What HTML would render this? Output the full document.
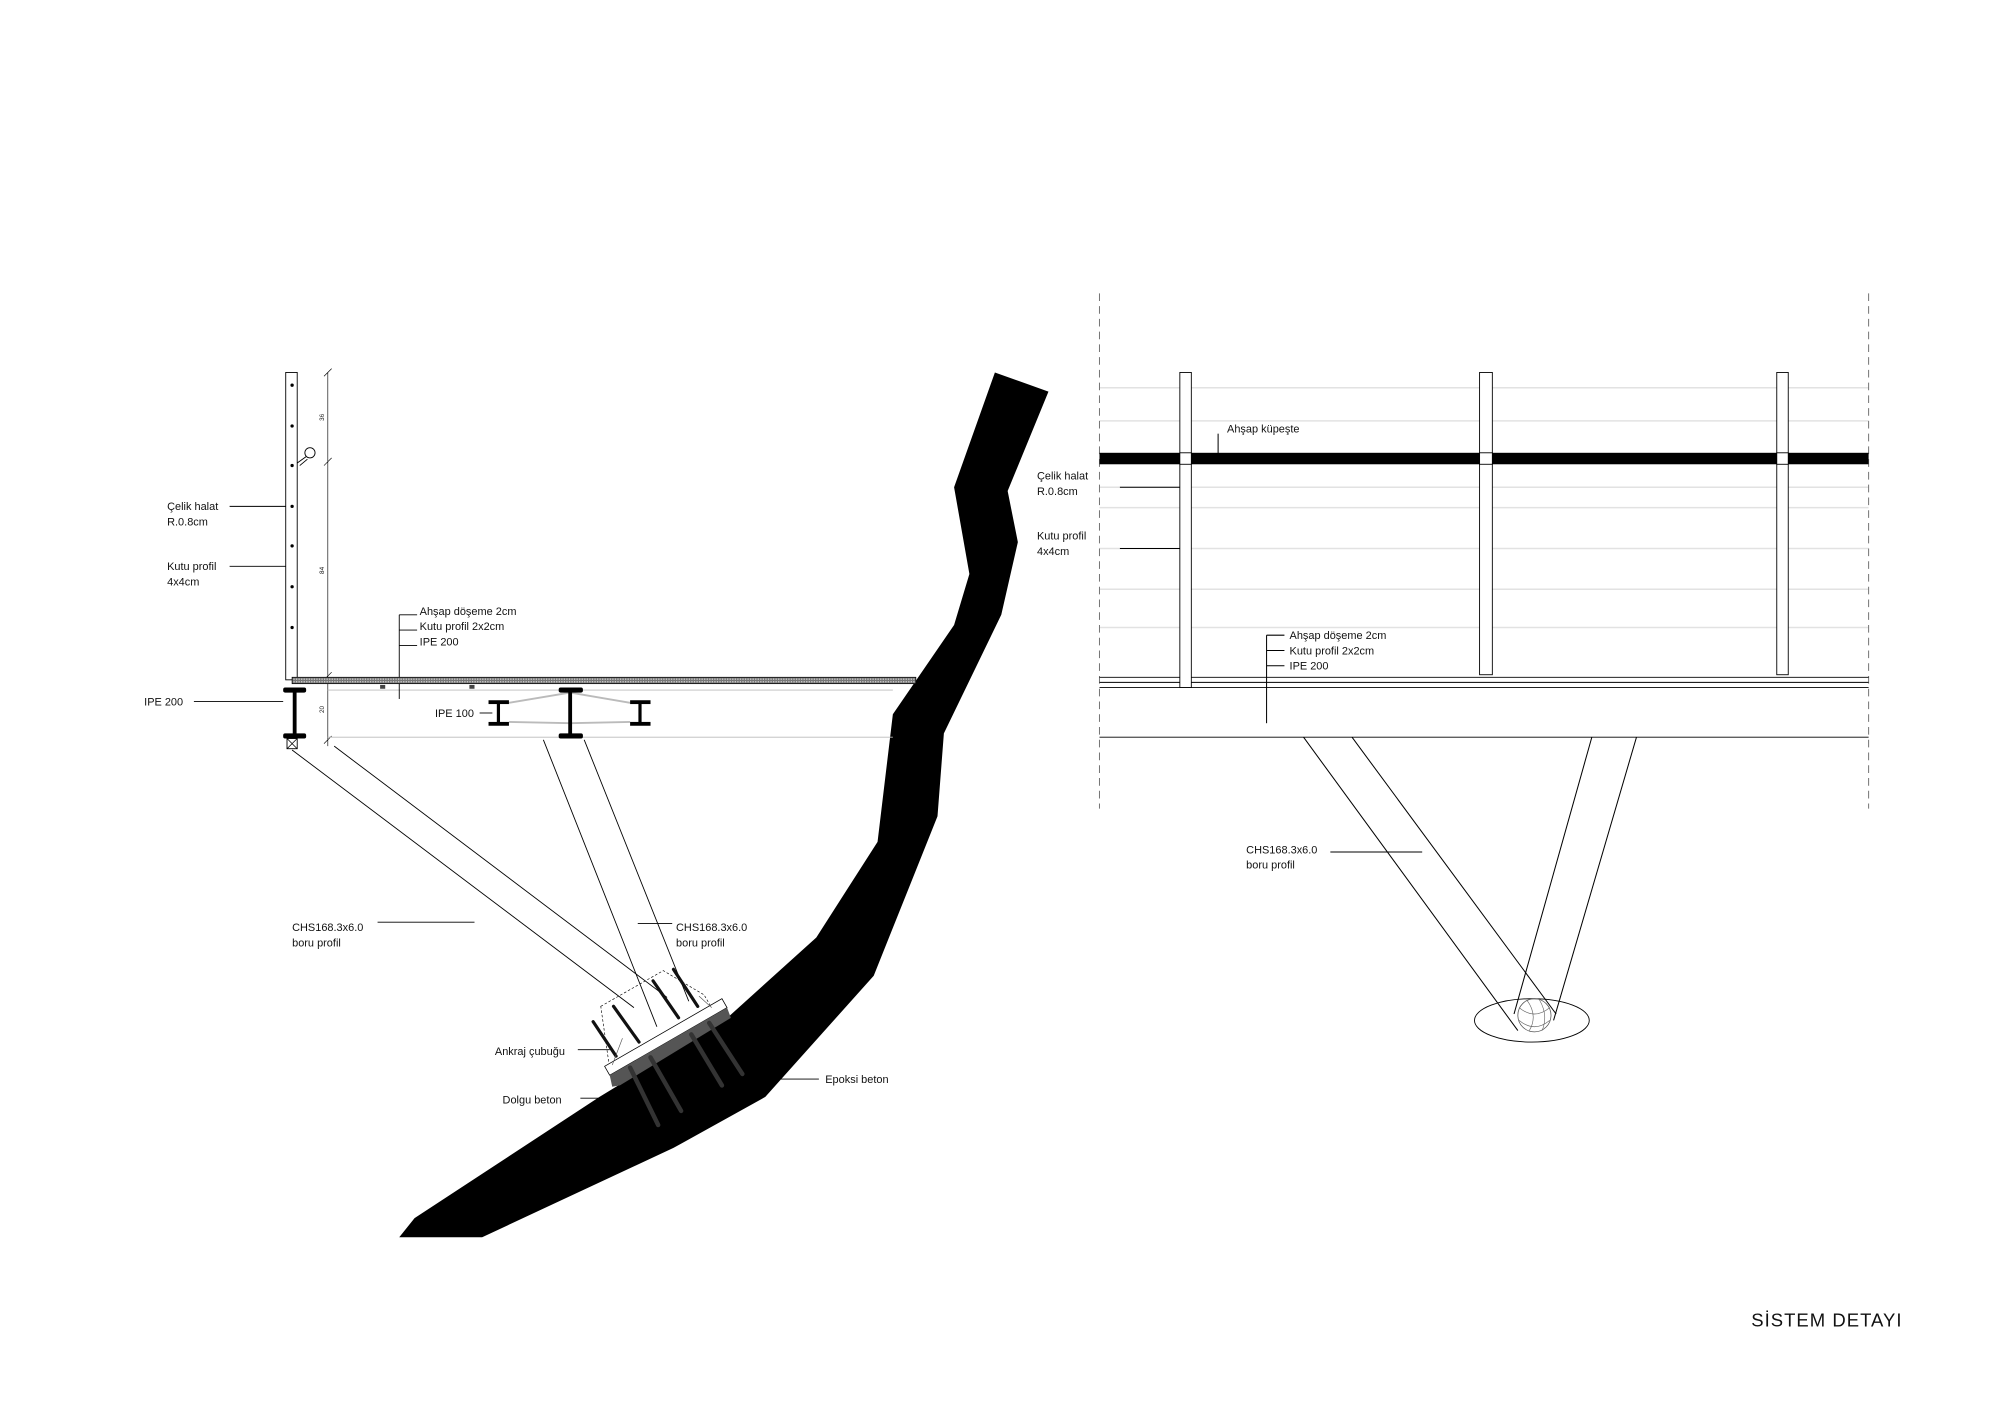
<!DOCTYPE html>
<html><head><meta charset="utf-8"><style>
html,body{margin:0;padding:0;background:#fff;width:2000px;height:1414px;overflow:hidden}
svg{display:block}
text{font-family:"Liberation Sans",sans-serif;font-size:8.6px;fill:#111}
</style></head><body>
<svg width="2000" height="1414" viewBox="0 0 1568 1108.6" xmlns="http://www.w3.org/2000/svg">
<defs>
<pattern id="hatch" width="2" height="2" patternUnits="userSpaceOnUse"><rect width="2" height="2" fill="#777"/><rect width="1" height="1" fill="#ccc"/></pattern>
</defs>
<!-- ROCK -->
<polygon fill="#000" points="780,292 822,307 790,385 798,425 785,482 740,575 735,640 685,765 600,860 528,900 378,970 313,970 325,955 470,860 568,800 640,735 688,660 700,560 748,490 760,450 748,382"/>

<!-- LEFT DRAWING -->
<g stroke="#000" fill="none" stroke-width="0.7">
<rect x="224" y="292" width="9" height="241" fill="#fff"/>
<line x1="257" y1="292" x2="257" y2="585" stroke-width="0.5"/>
<line x1="254" y1="295" x2="260" y2="289" stroke-width="0.5"/>
<line x1="254" y1="365" x2="260" y2="359" stroke-width="0.5"/>
<line x1="254" y1="533" x2="260" y2="527" stroke-width="0.5"/>
<line x1="254" y1="583" x2="260" y2="577" stroke-width="0.5"/>
<circle cx="243" cy="355" r="4" fill="#fff"/>
<line x1="233" y1="363" x2="240" y2="358"/>
<line x1="235" y1="365" x2="241" y2="360"/>
<line x1="257" y1="541" x2="700" y2="541" stroke="#bbb"/>
<line x1="257" y1="578" x2="700" y2="578" stroke="#bbb"/>
<line x1="447" y1="543" x2="399" y2="551" stroke="#bbb" stroke-width="1.5"/>
<line x1="447" y1="567" x2="399" y2="566" stroke="#bbb" stroke-width="1.5"/>
<line x1="447" y1="543" x2="494" y2="551" stroke="#bbb" stroke-width="1.5"/>
<line x1="447" y1="567" x2="494" y2="566" stroke="#bbb" stroke-width="1.5"/>
<line x1="229" y1="588" x2="497" y2="790"/>
<line x1="262" y1="585" x2="523" y2="782"/>
<line x1="426" y1="580" x2="515" y2="805"/>
<line x1="458" y1="580" x2="540" y2="785"/>
<line x1="180" y1="397" x2="224" y2="397"/>
<line x1="180" y1="444" x2="224" y2="444"/>
<line x1="152" y1="550" x2="222" y2="550"/>
<line x1="313" y1="482" x2="313" y2="548"/>
<line x1="313" y1="482" x2="327" y2="482"/><line x1="313" y1="494" x2="327" y2="494"/><line x1="313" y1="506" x2="327" y2="506"/>
<line x1="376" y1="559" x2="386" y2="559"/>
<line x1="296" y1="723" x2="372" y2="723"/>
<line x1="500" y1="724" x2="527" y2="724"/>
<line x1="453" y1="823" x2="478" y2="823"/>
<line x1="455" y1="861" x2="478" y2="861"/>
<line x1="590" y1="846" x2="642" y2="846"/>
</g>
<g fill="#000">
<circle cx="229" cy="302" r="1.3"/><circle cx="229" cy="334" r="1.3"/><circle cx="229" cy="365" r="1.3"/><circle cx="229" cy="397" r="1.3"/><circle cx="229" cy="428" r="1.3"/><circle cx="229" cy="460" r="1.3"/><circle cx="229" cy="492" r="1.3"/>
</g>
<rect x="229" y="531" width="489" height="5" fill="url(#hatch)" stroke="#000" stroke-width="0.6"/>
<rect x="298" y="537" width="4" height="3" fill="#444"/>
<rect x="368" y="537" width="4" height="3" fill="#444"/>
<g fill="#000">
<rect x="222" y="539" width="18" height="4" rx="1.5"/><rect x="229.5" y="541" width="3" height="36"/><rect x="222" y="575" width="18" height="4" rx="1.5"/>
<rect x="438" y="539" width="19" height="4" rx="1.5"/><rect x="445.5" y="541" width="3" height="36"/><rect x="438" y="575" width="19" height="4" rx="1.5"/>
<rect x="383" y="549" width="16" height="3"/><rect x="389.5" y="550" width="2.5" height="17"/><rect x="383" y="566" width="16" height="3"/>
<rect x="494" y="549" width="16" height="3"/><rect x="500.5" y="550" width="2.5" height="17"/><rect x="494" y="566" width="16" height="3"/>
</g>
<rect x="225" y="579" width="8" height="8" fill="#fff" stroke="#000" stroke-width="0.7"/>
<path d="M225 579 L233 587 M233 579 L225 587" stroke="#000" stroke-width="0.6"/>
<text x="0" y="0" transform="translate(254,330) rotate(-90)" style="font-size:5px">36</text>
<text x="0" y="0" transform="translate(254,450) rotate(-90)" style="font-size:5px">84</text>
<text x="0" y="0" transform="translate(254,559) rotate(-90)" style="font-size:5px">20</text>

<!-- FOUNDATION -->
<g>
<polygon points="471,789 520,761 552,780 559,792 478,838" fill="none" stroke="#000" stroke-width="0.5" stroke-dasharray="2,1.5"/>
<polygon points="474,836 566,783 570,790 478,843" fill="#fff" stroke="#000" stroke-width="0.6"/>
<polygon points="478,843 570,790 573,798 486,851 480,852" fill="#555"/>
<g stroke="#333" stroke-width="3.5" stroke-linecap="round">
<line x1="494" y1="837" x2="516" y2="882"/>
<line x1="510" y1="829" x2="534" y2="871"/>
<line x1="542" y1="811" x2="566" y2="851"/>
<line x1="556" y1="802" x2="582" y2="842"/>
</g>
<g stroke="#111" stroke-width="2.5" stroke-linecap="round">
<line x1="465" y1="801" x2="483" y2="828"/>
<line x1="481" y1="789" x2="501" y2="817"/>
<line x1="512" y1="769" x2="532" y2="798"/>
<line x1="528" y1="760" x2="547" y2="789"/>
</g>
<path d="M480 835 L488 814 M548 781 L558 790" stroke="#555" stroke-width="0.5" fill="none"/>
</g>

<text x="131" y="400">Çelik halat</text>
<text x="131" y="412">R.0.8cm</text>
<text x="131" y="447">Kutu profil</text>
<text x="131" y="459">4x4cm</text>
<text x="113" y="553">IPE 200</text>
<text x="329" y="482">Ahşap döşeme 2cm</text>
<text x="329" y="494">Kutu profil 2x2cm</text>
<text x="329" y="506">IPE 200</text>
<text x="341" y="562">IPE 100</text>
<text x="229" y="730">CHS168.3x6.0</text>
<text x="229" y="742">boru profil</text>
<text x="530" y="730">CHS168.3x6.0</text>
<text x="530" y="742">boru profil</text>
<text x="388" y="827">Ankraj çubuğu</text>
<text x="394" y="865">Dolgu beton</text>
<text x="647" y="849">Epoksi beton</text>

<!-- RIGHT DRAWING -->
<g stroke="#e2e2e2" stroke-width="1.2">
<line x1="862" y1="304" x2="1465" y2="304"/>
<line x1="862" y1="330" x2="1465" y2="330"/>
<line x1="862" y1="382" x2="1465" y2="382"/>
<line x1="862" y1="398" x2="1465" y2="398"/>
<line x1="862" y1="430" x2="1465" y2="430"/>
<line x1="862" y1="462" x2="1465" y2="462"/>
<line x1="862" y1="492" x2="1465" y2="492"/>
</g>
<g stroke="#777" stroke-width="0.8" stroke-dasharray="6,4">
<line x1="862" y1="230" x2="862" y2="634"/>
<line x1="1465" y1="230" x2="1465" y2="634"/>
</g>
<rect x="862" y="355" width="603" height="9" fill="#000"/>
<g stroke="#000" stroke-width="0.7" fill="#fff">
<line x1="862" y1="531" x2="1465" y2="531"/>
<line x1="862" y1="535" x2="1465" y2="535"/>
<line x1="862" y1="539" x2="1465" y2="539"/>
<line x1="862" y1="578" x2="1465" y2="578"/>
<rect x="925" y="292" width="9" height="247"/>
<rect x="1160" y="292" width="10" height="237"/>
<rect x="1393" y="292" width="9" height="237"/>
<rect x="925" y="355" width="9" height="9"/>
<rect x="1160" y="355" width="10" height="9"/>
<rect x="1393" y="355" width="9" height="9"/>
</g>
<ellipse cx="1201" cy="800" rx="45" ry="17" fill="none" stroke="#000" stroke-width="0.7"/>
<g stroke="#000" stroke-width="0.8" fill="none">
<line x1="1022" y1="578" x2="1190" y2="808"/>
<line x1="1060" y1="578" x2="1220" y2="795"/>
<line x1="1283" y1="578" x2="1218" y2="800"/>
<line x1="1248" y1="578" x2="1187" y2="795"/>
<circle cx="1203" cy="796" r="13" stroke="#555" stroke-width="0.6"/>
<path d="M1191 790 Q1203 800 1215 790 M1191 800 Q1203 810 1215 800 M1197 784 Q1206 796 1199 808 M1207 784 Q1214 796 1209 808" stroke="#666" stroke-width="0.5"/>
<line x1="955" y1="340" x2="955" y2="356"/>
<line x1="878" y1="382" x2="925" y2="382"/>
<line x1="878" y1="430" x2="925" y2="430"/>
<line x1="993" y1="498" x2="993" y2="567"/>
<line x1="993" y1="498" x2="1007" y2="498"/><line x1="993" y1="510" x2="1007" y2="510"/><line x1="993" y1="522" x2="1007" y2="522"/>
<line x1="1043" y1="668" x2="1115" y2="668"/>
</g>
<text x="962" y="339">Ahşap küpeşte</text>
<text x="813" y="376">Çelik halat</text>
<text x="813" y="388">R.0.8cm</text>
<text x="813" y="423">Kutu profil</text>
<text x="813" y="435">4x4cm</text>
<text x="1011" y="501">Ahşap döşeme 2cm</text>
<text x="1011" y="513">Kutu profil 2x2cm</text>
<text x="1011" y="525">IPE 200</text>
<text x="977" y="669">CHS168.3x6.0</text>
<text x="977" y="681">boru profil</text>

<text x="1373" y="1040" style="font-size:14.5px;letter-spacing:0.8px">SİSTEM DETAYI</text>
</svg>
</body></html>
